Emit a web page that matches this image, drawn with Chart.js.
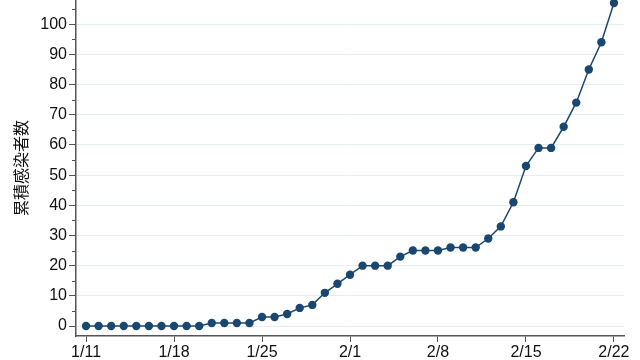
<!DOCTYPE html>
<html>
<head>
<meta charset="utf-8">
<script src="https://cdn.jsdelivr.net/npm/chart.js@4"></script>
<style>
  html, body { margin: 0; padding: 0; background: #fff; }
  #wrap { width: 640px; height: 360px; }
</style>
</head>
<body>
<div id="wrap"><canvas id="chart"></canvas></div>
<script>
const dates = [
  '1/11','1/12','1/13','1/14','1/15','1/16','1/17','1/18','1/19','1/20',
  '1/21','1/22','1/23','1/24','1/25','1/26','1/27','1/28','1/29','1/30','1/31',
  '2/1','2/2','2/3','2/4','2/5','2/6','2/7','2/8','2/9','2/10','2/11',
  '2/12','2/13','2/14','2/15','2/16','2/17','2/18','2/19','2/20','2/21','2/22'
];
const cases = [
  0, 0, 0, 0, 0, 0, 0, 0, 0, 0,
  1, 1, 1, 1, 3, 3, 4, 6, 7, 11, 14,
  17, 20, 20, 20, 23, 25, 25, 25, 26, 26, 26,
  29, 33, 41, 53, 59, 59, 66, 74, 85, 94, 107
];
const xTickLabels = ['1/11', '1/18', '1/25', '2/1', '2/8', '2/15', '2/22'];
const yTicks = [0, 10, 20, 30, 40, 50, 60, 70, 80, 90, 100];
const yMinorTicks = [5, 15, 25, 35, 45, 55, 65, 75, 85, 95, 105];
const yTitle = '累積感染者数';

const axisColor = '#555555';
const lineColor = '#1a476f';

const points = cases.map((v, i) => ({ x: i, y: v }));
const xTickIdx = xTickLabels.map((d) => dates.indexOf(d));

// small minor tick marks on the y axis (every 5)
const minorTicks = {
  id: 'minorTicks',
  afterDraw(chart) {
    const y = chart.scales.y;
    const ctx = chart.ctx;
    ctx.save();
    ctx.strokeStyle = axisColor;
    ctx.lineWidth = 1;
    yMinorTicks.forEach((v) => {
      const py = Math.round(y.getPixelForValue(v)) + 0.5;
      if (py < chart.chartArea.top) return;
      ctx.beginPath();
      ctx.moveTo(y.right - 4, py);
      ctx.lineTo(y.right, py);
      ctx.stroke();
    });
    ctx.restore();
  }
};

new Chart(document.getElementById('chart'), {
  type: 'line',
  data: {
    datasets: [{
      data: points,
      borderColor: lineColor,
      borderWidth: 1.5,
      backgroundColor: lineColor,
      pointBackgroundColor: lineColor,
      pointBorderColor: lineColor,
      pointRadius: 4.2,
      pointBorderWidth: 0,
      tension: 0,
      fill: false,
      clip: false
    }]
  },
  options: {
    responsive: true,
    maintainAspectRatio: false,
    animation: false,
    layout: { autoPadding: false, padding: { top: 0, right: 16, bottom: 0, left: 0 } },
    plugins: {
      legend: { display: false },
      tooltip: { enabled: false }
    },
    scales: {
      x: {
        type: 'linear',
        min: -0.8,
        max: 42.8,
        afterBuildTicks: (scale) => {
          scale.ticks = xTickIdx.map((v) => ({ value: v }));
        },
        afterFit: (scale) => {
          scale.height = 24;
          scale.paddingLeft = 0;
          scale.paddingRight = 0;
        },
        border: { display: true, color: axisColor, width: 1.5 },
        grid: {
          drawOnChartArea: false,
          drawTicks: true,
          tickLength: 6,
          tickColor: axisColor,
          tickWidth: 1
        },
        ticks: {
          autoSkip: false,
          maxRotation: 0,
          padding: 1,
          color: '#111',
          font: { family: 'Liberation Sans, Arial, sans-serif', size: 16 },
          callback: (value) => dates[value]
        }
      },
      y: {
        min: -3.3,
        max: 108,
        afterBuildTicks: (scale) => {
          scale.ticks = yTicks.map((v) => ({ value: v }));
        },
        afterFit: (scale) => {
          scale.width = 76;
          scale.paddingTop = 0;
          scale.paddingBottom = 0;
        },
        border: { display: true, color: axisColor, width: 1.5 },
        grid: {
          color: '#e4edf0',
          lineWidth: 1,
          drawTicks: true,
          tickLength: 7,
          tickColor: axisColor,
          tickWidth: 1
        },
        ticks: {
          padding: 2,
          color: '#111',
          font: { family: 'Liberation Sans, Arial, sans-serif', size: 16 }
        },
        title: {
          display: true,
          text: yTitle,
          color: '#111',
          padding: { top: 11, bottom: 0 },
          font: { family: '"Noto Sans CJK JP", sans-serif', size: 16 }
        }
      }
    }
  },
  plugins: [minorTicks]
});
</script>
</body>
</html>
